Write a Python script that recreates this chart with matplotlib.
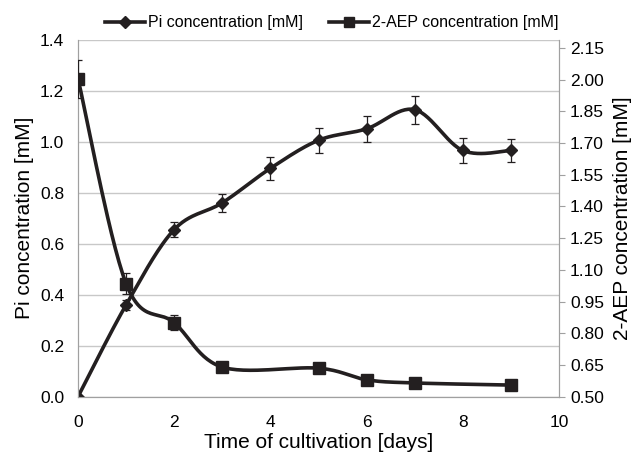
import numpy as np
import matplotlib
matplotlib.use("Agg")
import matplotlib.pyplot as plt
from matplotlib.lines import Line2D

plt.rcParams['font.family'] = ['Liberation Sans', 'DejaVu Sans']

# Data
days_pi = [0, 1, 2, 3, 4, 5, 6, 7, 8, 9]
pi_conc = [0.0, 0.36, 0.655, 0.76, 0.895, 1.005, 1.05, 1.125, 0.965, 0.965]
pi_err = [0.0, 0.02, 0.03, 0.035, 0.045, 0.05, 0.05, 0.055, 0.05, 0.045]

days_aep = [0, 1, 2, 3, 5, 6, 7, 9]
aep_conc = [2.005, 1.035, 0.85, 0.64, 0.635, 0.58, 0.565, 0.555]
aep_err = [0.09, 0.05, 0.035, 0.02, 0.02, 0.02, 0.01, 0.01]

xticks = [0, 2, 4, 6, 8, 10]
left_ticks = [0.0, 0.2, 0.4, 0.6, 0.8, 1.0, 1.2, 1.4]
right_ticks = [0.50, 0.65, 0.80, 0.95, 1.10, 1.25, 1.40, 1.55, 1.70, 1.85, 2.00, 2.15]

COL = '#231f20'


def smooth(x, y, n=30):
    x = np.asarray(x, float)
    y = np.asarray(y, float)
    px = np.concatenate([[x[0]], x, [x[-1]]])
    py = np.concatenate([[y[0]], y, [y[-1]]])
    xs, ys = [], []
    t = np.linspace(0, 1, n)
    for i in range(1, len(px) - 2):
        p0, p1, p2, p3 = (px[i-1], py[i-1]), (px[i], py[i]), (px[i+1], py[i+1]), (px[i+2], py[i+2])
        c1 = (p1[0] + (p2[0] - p0[0]) / 6, p1[1] + (p2[1] - p0[1]) / 6)
        c2 = (p2[0] - (p3[0] - p1[0]) / 6, p2[1] - (p3[1] - p1[1]) / 6)
        bx = (1-t)**3*p1[0] + 3*(1-t)**2*t*c1[0] + 3*(1-t)*t**2*c2[0] + t**3*p2[0]
        by = (1-t)**3*p1[1] + 3*(1-t)**2*t*c1[1] + 3*(1-t)*t**2*c2[1] + t**3*p2[1]
        xs.append(bx)
        ys.append(by)
    return np.concatenate(xs), np.concatenate(ys)


fig = plt.figure(figsize=(6.43, 4.57), dpi=100)
ax = fig.add_axes([78/643, (457-396.7)/457, (559-78)/643, (396.7-39.5)/457])
ax2 = ax.twinx()

ax.set_xlim(0, 10)
ax.set_ylim(0, 1.4)
ax2.set_ylim(0.5, 2.19)

ax.set_yticks(left_ticks)
ax.set_yticklabels([f"{v:.1f}" for v in left_ticks])
ax2.set_yticks(right_ticks)
ax2.set_yticklabels([f"{v:.2f}" for v in right_ticks])
ax.set_xticks(xticks)

ax.grid(axis='y', color='#c8c8c8', linewidth=1.0)
ax.set_axisbelow(True)

for a in (ax, ax2):
    a.spines['top'].set_visible(False)
    a.spines['left'].set_color('#a0a0a0')
    a.spines['right'].set_color('#a0a0a0')
    a.spines['bottom'].set_color('#a0a0a0')

ax.tick_params(axis='x', length=0, labelsize=12.5, colors='black', pad=13)
ax.tick_params(axis='y', length=0, labelsize=12.5, colors='black', pad=10)
ax2.tick_params(axis='y', length=4, color='#a0a0a0', labelsize=12.5, pad=4)

# Pi series
sx, sy = smooth(days_pi, pi_conc)
ax.plot(sx, sy, color=COL, lw=2.6, zorder=3, solid_capstyle='round')
ax.errorbar(days_pi, pi_conc, yerr=pi_err, fmt='none', ecolor=COL, elinewidth=0.9, capsize=3, capthick=0.9, zorder=3)
ax.plot(days_pi, pi_conc, linestyle='none', marker='D', markersize=6, color=COL, zorder=4)

# 2-AEP series
sx2, sy2 = smooth(days_aep, aep_conc)
ax2.plot(sx2, sy2, color=COL, lw=2.6, zorder=3, solid_capstyle='round')
ax2.errorbar(days_aep, aep_conc, yerr=aep_err, fmt='none', ecolor=COL, elinewidth=0.9, capsize=3, capthick=0.9, zorder=3)
ax2.plot(days_aep, aep_conc, linestyle='none', marker='s', markersize=8.5, color=COL, zorder=4)

ax.set_xlabel('Time of cultivation [days]', fontsize=15, labelpad=2)
ax.set_ylabel('Pi concentration [mM]', fontsize=15, labelpad=4)
ax2.set_ylabel('2-AEP concentration [mM]', fontsize=15, labelpad=6)

handles = [
    Line2D([0], [0], color=COL, lw=2.6, marker='D', markersize=6),
    Line2D([0], [0], color=COL, lw=2.6, marker='s', markersize=7.5),
]
fig.legend(handles, ['Pi concentration [mM]', '2-AEP concentration [mM]'],
           loc='center', bbox_to_anchor=(332/643, 1 - 23/457), ncol=2, frameon=False,
           fontsize=11.5, handlelength=2.5, handletextpad=0.2, columnspacing=1.6)

fig.savefig('out.png', dpi=100)
